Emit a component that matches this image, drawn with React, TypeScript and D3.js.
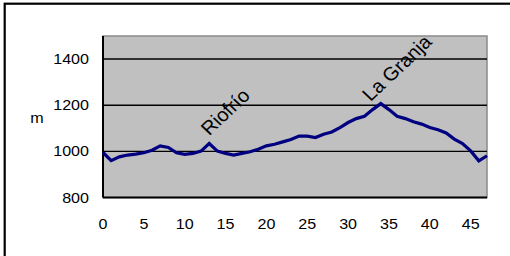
import React from "react";
import * as d3 from "d3";

// elevation profile (km -> m)
const km = d3.range(0, 48);
const elevation = [
  995, 960, 976, 984, 988, 994, 1005, 1024, 1017, 994,
  987, 991, 1001, 1034, 1001, 991, 984, 991, 998, 1009,
  1024, 1031, 1041, 1051, 1066, 1066, 1060, 1074, 1084, 1103,
  1125, 1142, 1152, 1181, 1207, 1181, 1152, 1142, 1128, 1118,
  1103, 1094, 1080, 1053, 1034, 1002, 959, 981,
];
const xTicks = [0, 5, 10, 15, 20, 25, 30, 35, 40, 45];
const yTicks = [800, 1000, 1200, 1400];
const places = [
  { name: "Riofrío", at: 13 },
  { name: "La Granja", at: 34 },
];

const W = 510;
const H = 256;
const plot = { left: 103, right: 487, top: 36, bottom: 197.5 };
const font = "'Liberation Sans', Arial, sans-serif";
const stretch = 1.15;

export default function App() {
  const x = d3.scaleLinear().domain([0, 47]).range([plot.left, plot.right]);
  const y = d3.scaleLinear().domain([800, 1500]).range([plot.bottom, plot.top]);

  const line = d3
    .line<number>()
    .x((_, i) => x(km[i]))
    .y((d) => y(d));

  return (
    <svg
      width={W}
      height={H}
      style={{ position: "absolute", left: 0, top: 0, display: "block" }}
      fontFamily={font}
    >
      <rect x={0} y={0} width={W} height={H} fill="#fff" />
      <rect x={4.7} y={3.7} width={700} height={700} fill="none" stroke="#000" strokeWidth={2.2} />

      {/* plot area */}
      <rect
        x={plot.left}
        y={plot.top}
        width={plot.right - plot.left}
        height={plot.bottom - plot.top}
        fill="#c0c0c0"
        stroke="#8a8a8a"
        strokeWidth={1.5}
      />
      {yTicks
        .filter((t) => t > 800)
        .map((t) => (
          <line key={t} x1={plot.left} x2={plot.right} y1={y(t)} y2={y(t)} stroke="#000" strokeWidth={1.4} />
        ))}
      <line x1={plot.left} x2={plot.left} y1={plot.top} y2={plot.bottom} stroke="#000" strokeWidth={2} />
      <line x1={plot.left} x2={plot.right} y1={plot.bottom} y2={plot.bottom} stroke="#000" strokeWidth={2} />

      <path d={line(elevation) || ""} fill="none" stroke="#000080" strokeWidth={3.2} strokeLinejoin="miter" />

      {/* axis labels */}
      {yTicks.map((t) => (
        <text
          key={t}
          transform={`translate(89,${y(t) + 5}) scale(${stretch},1)`}
          textAnchor="end"
          fontSize={14}
          fill="#000"
        >
          {t}
        </text>
      ))}
      {xTicks.map((t) => (
        <text
          key={t}
          transform={`translate(${x(t)},229) scale(${stretch},1)`}
          textAnchor="middle"
          fontSize={14}
          fill="#000"
        >
          {t}
        </text>
      ))}
      <text transform={`translate(37,123) scale(${stretch},1)`} textAnchor="middle" fontSize={14}>
        m
      </text>

      {/* rotated labels sit above their point; longer names need a bigger lift */}
      {places.map((p) => (
        <text
          key={p.name}
          transform={`translate(${x(km[p.at]) + 21},${y(elevation[p.at]) - (13 + 2 * p.name.length)}) scale(1.06,1) rotate(-45)`}
          textAnchor="middle"
          fontSize={19}
          fill="#000"
        >
          {p.name}
        </text>
      ))}
    </svg>
  );
}
